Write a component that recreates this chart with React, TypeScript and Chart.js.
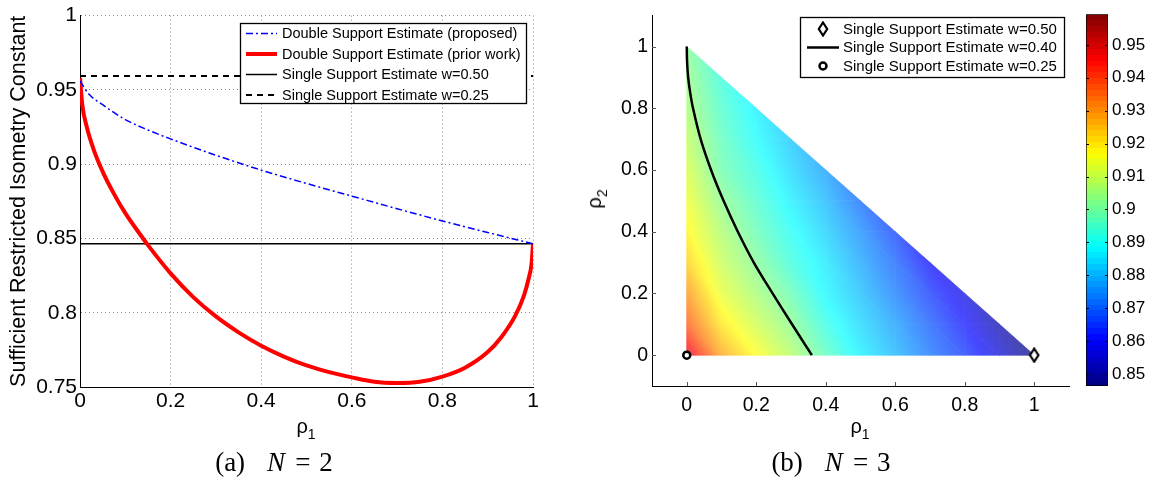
import React, { useEffect, useRef } from "react";
import { Chart, registerables } from "chart.js";

Chart.register(...registerables);

const FONT = "'Liberation Sans', Arial, Helvetica, sans-serif";
Chart.defaults.font.family = FONT;
Chart.defaults.color = "#000";

// ---------------- Left panel (N = 2) ----------------
const LEFT_X_TICKS = [0, 0.2, 0.4, 0.6, 0.8, 1];
const LEFT_X_LABELS = ["0", "0.2", "0.4", "0.6", "0.8", "1"];
const LEFT_Y_TICKS = [0.75, 0.8, 0.85, 0.9, 0.95, 1];
const LEFT_Y_LABELS = ["0.75", "0.8", "0.85", "0.9", "0.95", "1"];

const PROPOSED_RHO = [0, 0.02, 0.05, 0.1, 0.15, 0.2, 0.3, 0.4, 0.5, 0.6, 0.7, 0.8, 0.9, 1.0];
const PROPOSED_VAL = [0.956, 0.947, 0.94, 0.93, 0.923, 0.917, 0.906, 0.896, 0.887, 0.8785, 0.87, 0.8618, 0.854, 0.8464];

const PRIOR_RHO = [0, 0.005, 0.015, 0.03, 0.05, 0.075, 0.1, 0.125, 0.15, 0.2, 0.25, 0.3, 0.35, 0.4, 0.45, 0.5, 0.55, 0.6, 0.65, 0.7, 0.75, 0.8, 0.85, 0.9, 0.93, 0.96, 0.98, 0.99, 0.997, 1.0];
const PRIOR_VAL = [0.958, 0.94, 0.925, 0.91, 0.895, 0.88, 0.867, 0.856, 0.8455, 0.8265, 0.8105, 0.7975, 0.7868, 0.7778, 0.7705, 0.7645, 0.76, 0.7565, 0.7535, 0.7527, 0.7535, 0.757, 0.763, 0.7735, 0.7835, 0.7975, 0.8115, 0.8225, 0.8335, 0.8464];

const SINGLE_RHO = [0, 1];
const SINGLE_W50_VAL = [0.8464, 0.8464];
const SINGLE_W25_VAL = [0.9593, 0.9593];

const LEFT_SERIES_LABELS = [
  "Double Support Estimate (proposed)",
  "Double Support Estimate (prior work)",
  "Single Support Estimate w=0.50",
  "Single Support Estimate w=0.25",
];

// ---------------- Right panel (N = 3) ----------------
const RIGHT_TICKS = [0, 0.2, 0.4, 0.6, 0.8, 1];
const RIGHT_LABELS = ["0", "0.2", "0.4", "0.6", "0.8", "1"];

const HEAT_RHO1 = [0, 0.1, 0.2, 0.3, 0.4, 0.5, 0.6, 0.7, 0.8, 0.9, 1.0];
const HEAT_RHO2 = [0, 0.1, 0.2, 0.3, 0.4, 0.5, 0.6, 0.7, 0.8, 0.9, 1.0];
// HEAT_ROWS[j][i] = value at (rho1 = HEAT_RHO1[i], rho2 = HEAT_RHO2[j]), rho1 + rho2 <= 1
const HEAT_ROWS = [
  [0.95, 0.928, 0.917, 0.908, 0.897, 0.887, 0.88, 0.872, 0.865, 0.856, 0.846],
  [0.937, 0.92, 0.911, 0.903, 0.892, 0.884, 0.877, 0.869, 0.861, 0.851],
  [0.93, 0.914, 0.906, 0.898, 0.888, 0.881, 0.873, 0.865, 0.857],
  [0.923, 0.91, 0.902, 0.893, 0.886, 0.878, 0.87, 0.86],
  [0.918, 0.907, 0.898, 0.89, 0.883, 0.875, 0.866],
  [0.915, 0.903, 0.895, 0.887, 0.88, 0.871],
  [0.912, 0.899, 0.892, 0.884, 0.877],
  [0.909, 0.897, 0.889, 0.882],
  [0.906, 0.895, 0.887],
  [0.904, 0.893],
  [0.902],
];

const W40_RHO1 = [0, 0.001, 0.004, 0.01, 0.018, 0.04, 0.07, 0.106, 0.147, 0.193, 0.247, 0.303, 0.36];
const W40_RHO2 = [1, 0.95, 0.9, 0.85, 0.8, 0.7, 0.6, 0.5, 0.4, 0.3, 0.2, 0.1, 0];
const W50_RHO1 = [1];
const W50_RHO2 = [0];
const W25_RHO1 = [0];
const W25_RHO2 = [0];

const RIGHT_SERIES_LABELS = [
  "Single Support Estimate w=0.50",
  "Single Support Estimate w=0.40",
  "Single Support Estimate w=0.25",
];

const CBAR_RANGE = [0.8464, 0.9593];
const CBAR_TICKS = [0.85, 0.86, 0.87, 0.88, 0.89, 0.9, 0.91, 0.92, 0.93, 0.94, 0.95];
const CBAR_LABELS = ["0.85", "0.86", "0.87", "0.88", "0.89", "0.9", "0.91", "0.92", "0.93", "0.94", "0.95"];

// ---------------- helpers ----------------
const HEAT_ALPHA = 0.72;

function jet(t: number): number[] {
  const c = (v: number) => Math.max(0, Math.min(1, v));
  return [
    c(Math.min(4 * t - 1.5, -4 * t + 4.5)),
    c(Math.min(4 * t - 0.5, -4 * t + 3.5)),
    c(Math.min(4 * t + 0.5, -4 * t + 2.5)),
  ];
}

function colorFor(v: number, alpha: number): string {
  const t = Math.max(0, Math.min(1, (v - CBAR_RANGE[0]) / (CBAR_RANGE[1] - CBAR_RANGE[0])));
  const [r, g, b] = jet(t);
  const m = (x: number) => Math.round(255 * (1 - alpha) + 255 * x * alpha);
  return `rgb(${m(r)},${m(g)},${m(b)})`;
}

type Node = { px: number; py: number; v: number };

function fillTri(ctx: CanvasRenderingContext2D, a: Node, b: Node, c: Node) {
  const d1x = b.px - a.px, d1y = b.py - a.py, d2x = c.px - a.px, d2y = c.py - a.py;
  const dv1 = b.v - a.v, dv2 = c.v - a.v;
  const det = d1x * d2y - d1y * d2x;
  const lo = Math.min(a.v, b.v, c.v), hi = Math.max(a.v, b.v, c.v);
  let style: any;
  if (Math.abs(det) < 1e-9 || hi - lo < 1e-9) {
    style = colorFor((a.v + b.v + c.v) / 3, HEAT_ALPHA);
  } else {
    const gx = (dv1 * d2y - dv2 * d1y) / det;
    const gy = (d1x * dv2 - d2x * dv1) / det;
    const g2 = gx * gx + gy * gy;
    const sx = a.px + (gx * (lo - a.v)) / g2, sy = a.py + (gy * (lo - a.v)) / g2;
    const ex = a.px + (gx * (hi - a.v)) / g2, ey = a.py + (gy * (hi - a.v)) / g2;
    const grad = ctx.createLinearGradient(sx, sy, ex, ey);
    const n = 8;
    for (let k = 0; k <= n; k++) grad.addColorStop(k / n, colorFor(lo + ((hi - lo) * k) / n, HEAT_ALPHA));
    style = grad;
  }
  ctx.beginPath();
  ctx.moveTo(a.px, a.py);
  ctx.lineTo(b.px, b.py);
  ctx.lineTo(c.px, c.py);
  ctx.closePath();
  ctx.fillStyle = style;
  ctx.fill();
  ctx.strokeStyle = style;
  ctx.lineWidth = 0.8;
  ctx.lineJoin = "round";
  ctx.stroke();
}

const heatPlugin = {
  id: "triHeat",
  beforeDatasetsDraw(chart: any) {
    const xs = chart.scales.x, ys = chart.scales.y, ctx = chart.ctx;
    const node = (i: number, j: number): Node => ({
      px: xs.getPixelForValue(HEAT_RHO1[i]),
      py: ys.getPixelForValue(HEAT_RHO2[j]),
      v: HEAT_ROWS[j][i],
    });
    ctx.save();
    for (let j = 0; j < HEAT_ROWS.length - 1; j++) {
      const n0 = HEAT_ROWS[j].length, n1 = HEAT_ROWS[j + 1].length;
      for (let i = 0; i < n0 - 1; i++) {
        if (i < n1) fillTri(ctx, node(i, j), node(i + 1, j), node(i, j + 1));
        if (i + 1 < n1) fillTri(ctx, node(i + 1, j), node(i + 1, j + 1), node(i, j + 1));
      }
    }
    ctx.restore();
  },
};

function makeDiamond(): HTMLCanvasElement {
  const cv = document.createElement("canvas");
  cv.width = 12;
  cv.height = 16;
  const c = cv.getContext("2d")!;
  c.beginPath();
  c.moveTo(6, 1.5);
  c.lineTo(10.2, 8);
  c.lineTo(6, 14.5);
  c.lineTo(1.8, 8);
  c.closePath();
  c.fillStyle = "#fff";
  c.fill();
  c.lineWidth = 2.2;
  c.strokeStyle = "#000";
  c.stroke();
  return cv;
}

const boxLegend = {
  id: "boxLegend",
  afterDatasetsDraw(chart: any, _args: any, opts: any) {
    if (!opts || !opts.box) return;
    const ctx: CanvasRenderingContext2D = chart.ctx;
    const [x1, y1, x2, y2] = opts.box;
    ctx.save();
    ctx.fillStyle = "#fff";
    ctx.fillRect(x1, y1, x2 - x1, y2 - y1);
    ctx.strokeStyle = "#000";
    ctx.lineWidth = 1.3;
    ctx.strokeRect(x1 + 0.5, y1 + 0.5, x2 - x1 - 1, y2 - y1 - 1);
    ctx.font = `${opts.fontSize}px ${FONT}`;
    ctx.textBaseline = "middle";
    ctx.textAlign = "left";
    chart.data.datasets.forEach((ds: any, i: number) => {
      const y = opts.rows[i];
      if (ds.legendMarker === "diamond") {
        ctx.drawImage(ds.pointStyle, opts.markerX - 6, y - 8);
      } else if (ds.legendMarker === "circle") {
        ctx.beginPath();
        ctx.arc(opts.markerX, y, ds.pointRadius, 0, Math.PI * 2);
        ctx.fillStyle = "#fff";
        ctx.fill();
        ctx.lineWidth = ds.borderWidth;
        ctx.strokeStyle = "#000";
        ctx.stroke();
      } else {
        ctx.beginPath();
        ctx.setLineDash(ds.borderDash || []);
        ctx.lineWidth = ds.borderWidth;
        ctx.strokeStyle = ds.borderColor;
        ctx.moveTo(opts.sample[0], y);
        ctx.lineTo(opts.sample[1], y);
        ctx.stroke();
        ctx.setLineDash([]);
      }
      ctx.fillStyle = "#000";
      ctx.fillText(ds.label, opts.textX, y + 0.5);
    });
    ctx.restore();
  },
};

const innerTicks = {
  id: "innerTicks",
  afterDraw(chart: any, _a: any, opts: any) {
    if (!opts || !opts.enabled) return;
    const ctx = chart.ctx;
    const { left, bottom } = chart.chartArea;
    ctx.save();
    ctx.strokeStyle = "#555";
    ctx.lineWidth = 1;
    for (const v of RIGHT_TICKS) {
      const px = Math.round(chart.scales.x.getPixelForValue(v)) + 0.5;
      ctx.beginPath();
      ctx.moveTo(px, bottom);
      ctx.lineTo(px, bottom - 4);
      ctx.stroke();
      const py = Math.round(chart.scales.y.getPixelForValue(v)) + 0.5;
      ctx.beginPath();
      ctx.moveTo(left, py);
      ctx.lineTo(left + 4, py);
      ctx.stroke();
    }
    ctx.restore();
  },
};

const cbarTicks = {
  id: "cbarTicks",
  afterDraw(chart: any) {
    const ctx = chart.ctx;
    const { left, right } = chart.chartArea;
    ctx.save();
    ctx.strokeStyle = "#000";
    ctx.lineWidth = 1;
    for (const v of CBAR_TICKS) {
      const py = Math.round(chart.scales.y.getPixelForValue(v)) + 0.5;
      ctx.beginPath();
      ctx.moveTo(left, py);
      ctx.lineTo(left + 3, py);
      ctx.moveTo(right, py);
      ctx.lineTo(right - 3, py);
      ctx.stroke();
    }
    ctx.restore();
  },
};

const pts = (xs: number[], ys: number[]) => xs.map((x, i) => ({ x, y: ys[i] }));
const setTicks = (vals: number[]) => (scale: any) => {
  scale.ticks = vals.map((v) => ({ value: v }));
};

export default function App() {
  const leftRef = useRef<HTMLCanvasElement>(null);
  const rightRef = useRef<HTMLCanvasElement>(null);
  const cbarRef = useRef<HTMLCanvasElement>(null);

  useEffect(() => {
    const left = new Chart(leftRef.current!, {
      type: "line",
      data: {
        datasets: [
          {
            label: LEFT_SERIES_LABELS[0],
            data: pts(PROPOSED_RHO, PROPOSED_VAL),
            borderColor: "#0000ff",
            borderWidth: 1.5,
            borderDash: [7, 3, 2, 3],
            pointRadius: 0,
            cubicInterpolationMode: "monotone",
            order: 1,
          },
          {
            label: LEFT_SERIES_LABELS[1],
            data: pts(PRIOR_RHO, PRIOR_VAL),
            borderColor: "#ff0000",
            borderWidth: 4,
            pointRadius: 0,
            cubicInterpolationMode: "monotone",
            order: 2,
          },
          {
            label: LEFT_SERIES_LABELS[2],
            data: pts(SINGLE_RHO, SINGLE_W50_VAL),
            borderColor: "#000",
            borderWidth: 1.5,
            pointRadius: 0,
            order: 3,
          },
          {
            label: LEFT_SERIES_LABELS[3],
            data: pts(SINGLE_RHO, SINGLE_W25_VAL),
            borderColor: "#000",
            borderWidth: 2,
            borderDash: [6, 5],
            pointRadius: 0,
            order: 4,
          },
        ] as any,
      },
      options: {
        animation: false,
        responsive: false,
        layout: { padding: { left: 0, top: 15, right: 27, bottom: 3 } },
        plugins: {
          legend: { display: false },
          tooltip: { enabled: false },
          boxLegend: {
            box: [240, 23, 527, 104],
            rows: [33.5, 54, 74.5, 95],
            sample: [246, 277],
            textX: 282,
            fontSize: 14.5,
          },
        } as any,
        scales: {
          x: {
            type: "linear",
            min: 0,
            max: 1,
            afterBuildTicks: setTicks(LEFT_X_TICKS),
            afterFit: (s: any) => {
              s.height = 30;
            },
            ticks: {
              callback: (_v: any, i: number) => LEFT_X_LABELS[i],
              font: { size: 21 },
              color: "#000",
              padding: 2,
              maxRotation: 0,
              autoSkip: false,
            },
            grid: { color: "#8a8a8a", drawTicks: false, lineWidth: 1 },
            border: { display: true, color: "#000", width: 1, dash: [1, 3] },
          },
          y: {
            type: "linear",
            min: 0.75,
            max: 1,
            afterBuildTicks: setTicks(LEFT_Y_TICKS),
            afterFit: (s: any) => {
              s.width = 80;
            },
            ticks: {
              callback: (_v: any, i: number) => LEFT_Y_LABELS[i],
              font: { size: 21 },
              color: "#000",
              padding: 3,
              autoSkip: false,
            },
            title: {
              display: true,
              text: "Sufficient Restricted Isometry Constant",
              font: { size: 21.5 },
              color: "#000",
              padding: { top: 6, bottom: 0 },
            },
            grid: { color: "#8a8a8a", drawTicks: false, lineWidth: 1 },
            border: { display: true, color: "#000", width: 1, dash: [1, 3] },
          },
        } as any,
      },
      plugins: [boxLegend],
    });

    const diamond = makeDiamond();
    const right = new Chart(rightRef.current!, {
      type: "scatter",
      data: {
        datasets: [
          {
            label: RIGHT_SERIES_LABELS[0],
            data: pts(W50_RHO1, W50_RHO2),
            pointStyle: diamond,
            legendMarker: "diamond",
            pointRadius: 6,
            borderColor: "#000",
            backgroundColor: "#fff",
            borderWidth: 2,
          },
          {
            label: RIGHT_SERIES_LABELS[1],
            data: pts(W40_RHO1, W40_RHO2),
            showLine: true,
            borderColor: "#000",
            borderWidth: 2.5,
            pointRadius: 0,
            tension: 0.3,
          },
          {
            label: RIGHT_SERIES_LABELS[2],
            data: pts(W25_RHO1, W25_RHO2),
            pointStyle: "circle",
            legendMarker: "circle",
            pointRadius: 3.5,
            borderWidth: 2.5,
            borderColor: "#000",
            backgroundColor: "#fff",
          },
        ] as any,
      },
      options: {
        animation: false,
        responsive: false,
        layout: { padding: { left: 0, top: 12, right: 11, bottom: 4 } },
        plugins: {
          legend: { display: false },
          tooltip: { enabled: false },
          boxLegend: {
            box: [220, 17, 485, 78],
            rows: [29, 47.5, 66],
            sample: [227, 259],
            markerX: 243,
            textX: 263,
            fontSize: 15,
          },
          innerTicks: { enabled: true },
        } as any,
        scales: {
          x: {
            type: "linear",
            min: -0.1,
            max: 1.1,
            afterBuildTicks: setTicks(RIGHT_TICKS),
            afterFit: (s: any) => {
              s.height = 30;
            },
            ticks: {
              callback: (_v: any, i: number) => RIGHT_LABELS[i],
              font: { size: 19.5 },
              color: "#000",
              padding: 8,
              maxRotation: 0,
              autoSkip: false,
            },
            grid: { display: false, drawTicks: false },
            border: { display: true, color: "#000", width: 1 },
          },
          y: {
            type: "linear",
            min: -0.1,
            max: 1.1,
            afterBuildTicks: setTicks(RIGHT_TICKS),
            afterFit: (s: any) => {
              s.width = 72;
            },
            ticks: {
              callback: (_v: any, i: number) => RIGHT_LABELS[i],
              font: { size: 19.5 },
              color: "#000",
              padding: 4,
              autoSkip: false,
            },
            grid: { display: false, drawTicks: false },
            border: { display: true, color: "#000", width: 1 },
          },
        } as any,
      },
      plugins: [heatPlugin, boxLegend, innerTicks],
    });

    const cbar = new Chart(cbarRef.current!, {
      type: "bar",
      data: {
        labels: [""],
        datasets: [
          {
            data: [[CBAR_RANGE[0], CBAR_RANGE[1]]],
            backgroundColor: (c: any) => {
              const area = c.chart.chartArea;
              if (!area) return "#000";
              const g = c.chart.ctx.createLinearGradient(0, area.bottom, 0, area.top);
              const n = 64;
              for (let k = 0; k < n; k++) {
                const v = CBAR_RANGE[0] + ((k + 0.5) / n) * (CBAR_RANGE[1] - CBAR_RANGE[0]);
                const col = colorFor(v, 1);
                g.addColorStop(k / n, col);
                g.addColorStop(Math.min(1, (k + 1) / n - 1e-6), col);
              }
              return g;
            },
            borderColor: "#000",
            borderWidth: 1,
            borderSkipped: false,
            barPercentage: 1,
            categoryPercentage: 1,
          },
        ] as any,
      },
      options: {
        animation: false,
        responsive: false,
        layout: { padding: { left: 26, top: 12, right: 0, bottom: 34 } },
        plugins: { legend: { display: false }, tooltip: { enabled: false } },
        scales: {
          x: { display: false },
          y: {
            position: "right",
            min: CBAR_RANGE[0],
            max: CBAR_RANGE[1],
            afterBuildTicks: setTicks(CBAR_TICKS),
            afterFit: (s: any) => {
              s.width = 45;
            },
            ticks: {
              callback: (_v: any, i: number) => CBAR_LABELS[i],
              font: { size: 17 },
              color: "#000",
              padding: 4,
              autoSkip: false,
            },
            grid: { display: false, drawTicks: false },
            border: { display: false },
          },
        } as any,
      },
      plugins: [cbarTicks],
    });

    return () => {
      left.destroy();
      right.destroy();
      cbar.destroy();
    };
  }, []);

  const sans: React.CSSProperties = { fontFamily: FONT, fontSize: 20, lineHeight: "20px", color: "#000" };
  const serif: React.CSSProperties = {
    fontFamily: "'Liberation Serif', 'DejaVu Serif', serif",
    fontSize: 27,
    lineHeight: "27px",
    color: "#000",
    whiteSpace: "nowrap",
  };
  const sub: React.CSSProperties = { fontSize: 14, verticalAlign: "-6px" };

  return (
    <div style={{ position: "fixed", left: 0, top: 0, width: 1153, height: 483, background: "#fff", overflow: "hidden" }}>
      <canvas ref={leftRef} width={560} height={420} style={{ position: "absolute", left: 0, top: 0 }} />
      <canvas ref={rightRef} width={500} height={420} style={{ position: "absolute", left: 580, top: 0 }} />
      <canvas ref={cbarRef} width={93} height={420} style={{ position: "absolute", left: 1060, top: 0 }} />

      <div style={{ ...sans, position: "absolute", left: 306, top: 416, transform: "translateX(-50%)" }}>
        ρ<span style={sub}>1</span>
      </div>
      <div style={{ ...sans, position: "absolute", left: 860, top: 416, transform: "translateX(-50%)" }}>
        ρ<span style={sub}>1</span>
      </div>
      <div
        style={{
          ...sans,
          position: "absolute",
          left: 598,
          top: 199,
          transform: "translate(-50%, -50%) rotate(-90deg)",
        }}
      >
        ρ<span style={sub}>2</span>
      </div>

      <div style={{ ...serif, position: "absolute", left: 274, top: 449, transform: "translateX(-50%)" }}>
        (a)<span style={{ marginLeft: 22 }} />
        <i>N</i>
        <span style={{ marginLeft: 10 }} />=<span style={{ marginLeft: 9 }} />2
      </div>
      <div style={{ ...serif, position: "absolute", left: 831, top: 449, transform: "translateX(-50%)" }}>
        (b)<span style={{ marginLeft: 22 }} />
        <i>N</i>
        <span style={{ marginLeft: 10 }} />=<span style={{ marginLeft: 9 }} />3
      </div>
    </div>
  );
}
